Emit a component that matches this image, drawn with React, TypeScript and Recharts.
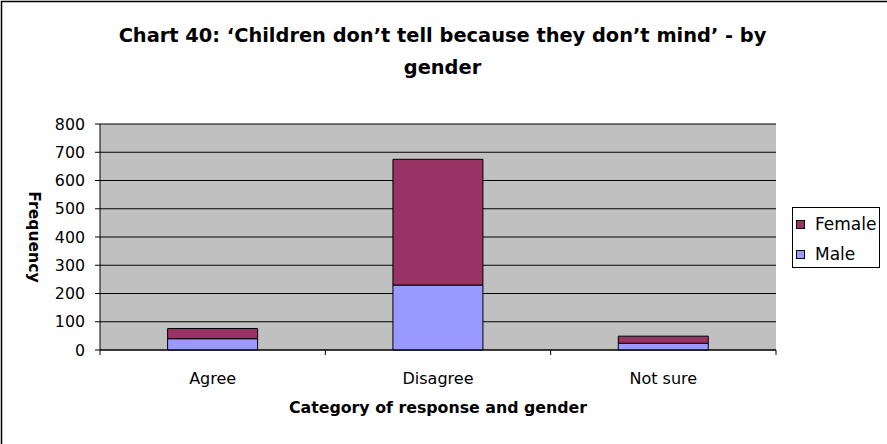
import React from 'react';
import { BarChart, Bar, XAxis, YAxis, CartesianGrid, Label } from 'recharts';

const categories = ['Agree', 'Disagree', 'Not sure'];
const maleValues = [40, 230, 24];
const femaleValues = [36, 445, 25];
const yTicks = [0, 100, 200, 300, 400, 500, 600, 700, 800];
const seriesNames = ['Female', 'Male'];
const seriesColors = ['#993366', '#9999FF'];
const titleLines = ['Chart 40: \u2018Children don\u2019t tell because they don\u2019t mind\u2019 - by', 'gender'];
const xTitle = 'Category of response and gender';
const yTitle = 'Frequency';

const data = categories.map((c, i) => ({ name: c, Male: maleValues[i], Female: femaleValues[i] }));

const W = 887;
const H = 444;
const PLOT_L = 100;
const PLOT_R = 776;
const PLOT_T = 124;
const PLOT_B = 350;
const FONT = '"DejaVu Sans", Arial, sans-serif';
const HALF_BAND = (PLOT_R - PLOT_L) / categories.length / 2;

const XTick = (props: any) => {
  const { x, y, payload, index } = props;
  return (
    <g>
      <line x1={x + HALF_BAND} y1={PLOT_B} x2={x + HALF_BAND} y2={PLOT_B + 5} stroke="#000" strokeWidth={1} />
      {index === 0 && <line x1={x - HALF_BAND} y1={PLOT_B} x2={x - HALF_BAND} y2={PLOT_B + 5} stroke="#000" strokeWidth={1} />}
      <text x={x} y={y + 23} dy="0.71em" textAnchor="middle" fontFamily={FONT} fontSize={16} fill="#000">
        {payload.value}
      </text>
    </g>
  );
};

export default function App() {
  return (
    <div style={{ position: 'absolute', left: 0, top: 0, width: W, height: H, background: '#fff' }}>
      <BarChart
        width={W}
        height={H}
        data={data}
        margin={{ top: PLOT_T, right: W - PLOT_R, bottom: H - PLOT_B - 30, left: 0 }}
        barCategoryGap="30%"
      >
        <rect x={1.5} y={1.5} width={2000} height={2000} fill="none" stroke="#000" strokeWidth={1.5} />
        <CartesianGrid vertical={false} fill="#C0C0C0" stroke="#000" strokeWidth={1} />
        <XAxis
          dataKey="name"
          height={30}
          tickSize={0}
          tickMargin={0}
          tickLine={false}
          axisLine={{ stroke: '#000', strokeWidth: 1 }}
          tick={<XTick />}
          interval={0}
        >
          <Label value={xTitle} position="bottom" offset={22} fontFamily={FONT} fontSize={15.8} fontWeight="bold" fill="#000" />
        </XAxis>
        <YAxis
          width={PLOT_L}
          domain={[0, 800]}
          ticks={yTicks}
          interval={0}
          tickSize={5}
          tickMargin={10}
          tick={{ fontFamily: FONT, fontSize: 15.8, fill: '#000' }}
          tickLine={{ stroke: '#000' }}
          axisLine={{ stroke: '#000', strokeWidth: 1 }}
        >
          <Label value={yTitle} angle={90} position="insideLeft" offset={35} fontFamily={FONT} fontSize={15.6} fontWeight="bold" fill="#000" style={{ textAnchor: 'middle' }} />
        </YAxis>
        <YAxis
          yAxisId="r"
          orientation="right"
          width={0}
          domain={[0, 800]}
          tick={false}
          tickLine={false}
          axisLine={{ stroke: '#808080', strokeWidth: 1 }}
        />
        <Bar dataKey="Male" stackId="a" fill={seriesColors[1]} stroke="#000" strokeWidth={1} isAnimationActive={false} />
        <Bar dataKey="Female" stackId="a" fill={seriesColors[0]} stroke="#000" strokeWidth={1} isAnimationActive={false} />
        {titleLines.map((t, i) => (
          <text key={t} x={442.5} y={35 + i * 32} dy="0.35em" textAnchor="middle" fontFamily={FONT} fontSize={19.4} fontWeight="bold" fill="#000">
            {t}
          </text>
        ))}
        <g>
          <rect x={792.5} y={207.5} width={87} height={60} fill="#fff" stroke="#000" strokeWidth={1} />
          {seriesNames.map((n, i) => (
            <g key={n}>
              <rect x={796.5} y={220.5 + i * 30} width={8} height={8} fill={seriesColors[i]} stroke="#000" strokeWidth={1} />
              <text x={815} y={224.5 + i * 30} dy="0.35em" fontFamily={FONT} fontSize={17} fill="#000">
                {n}
              </text>
            </g>
          ))}
        </g>
      </BarChart>
    </div>
  );
}
